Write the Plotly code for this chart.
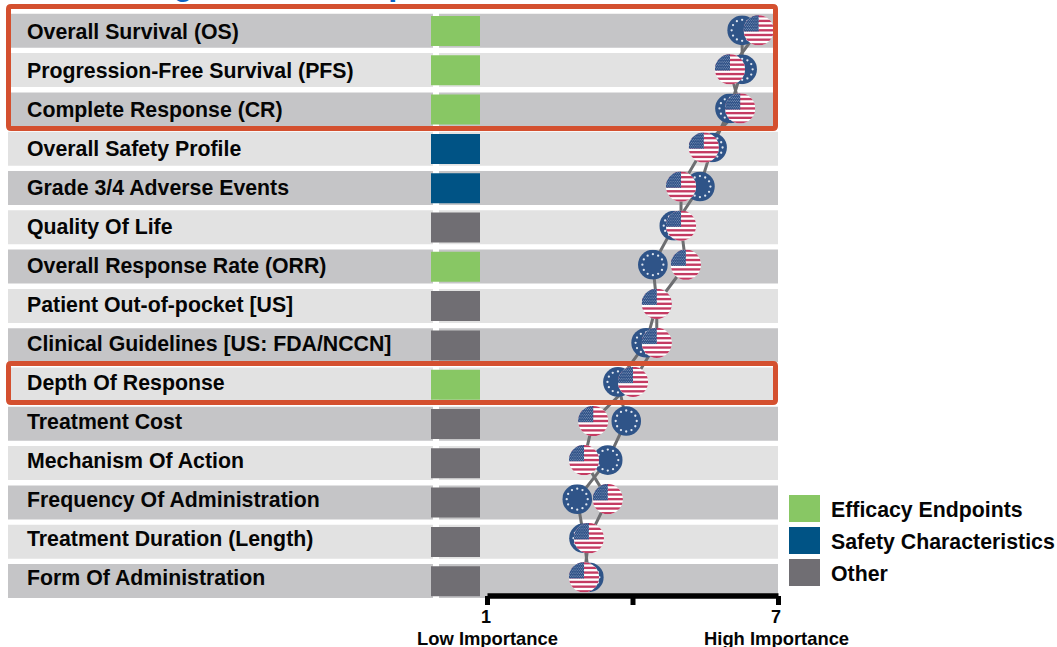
import base64
import math
import plotly.graph_objects as go

# Survey rows, top to bottom
categories = [
    "Overall Survival (OS)", "Progression-Free Survival (PFS)", "Complete Response (CR)",
    "Overall Safety Profile", "Grade 3/4 Adverse Events", "Quality Of Life",
    "Overall Response Rate (ORR)", "Patient Out-of-pocket [US]",
    "Clinical Guidelines [US: FDA/NCCN]", "Depth Of Response", "Treatment Cost",
    "Mechanism Of Action", "Frequency Of Administration",
    "Treatment Duration (Length)", "Form Of Administration",
]
groups = ["E", "E", "E", "S", "S", "O", "E", "O", "O", "E", "O", "O", "O", "O", "O"]
eu_scores = [6.25, 6.25, 6.00, 5.63, 5.38, 4.85, 4.41, 4.49, 4.27, 3.69, 3.86, 3.48, 2.85, 2.99, 3.09]
us_scores = [6.59, 6.00, 6.21, 5.46, 4.99, 4.99, 5.09, 4.49, 4.49, 4.00, 3.18, 2.99, 3.48, 3.09, 2.99]
legend_names = ["Efficacy Endpoints", "Safety Characteristics", "Other"]
legend_keys = ["E", "S", "O"]
axis_ticks = [1, 4, 7]
axis_ticktext = ["1", "", "7"]
axis_ends = ["Low Importance", "High Importance"]

W, H = 1057, 647
FONT = "Liberation Sans"
TEXT = "#050505"
GROUP_COLORS = {"E": "#88c764", "S": "#005385", "O": "#706e73"}
BAND_COLORS = ["#c5c5c7", "#e2e2e2"]
BOX_COLOR = "#d4502f"
LINE_COLOR = "#6d6e71"

# Pixel calibration of the two data axes
UNIT = 48.5
X_ONE = 487.5
ROW_PITCH = 39.07
ROW_ZERO = 30.3


def data_x(px):
    return 1 + (px - X_ONE) / UNIT


def data_y(px):
    return (px - ROW_ZERO) / ROW_PITCH


def svg_uri(body):
    svg = f'<svg xmlns="http://www.w3.org/2000/svg" viewBox="0 0 100 100">{body}</svg>'
    return "data:image/svg+xml;base64," + base64.b64encode(svg.encode()).decode()


def eu_badge():
    parts = ['<circle cx="50" cy="50" r="49.5" fill="#2f5488"/>']
    for k in range(12):
        a = 2 * math.pi * k / 12
        parts.append(f'<circle cx="{50 + 35 * math.cos(a):.2f}" cy="{50 + 35 * math.sin(a):.2f}" r="3.8" fill="#dfe6f0"/>')
    return svg_uri("".join(parts))


def us_badge():
    parts = ['<defs><clipPath id="c"><circle cx="50" cy="50" r="49.5"/></clipPath></defs><g clip-path="url(#c)">']
    parts.append('<rect width="100" height="100" fill="#ffffff"/>')
    band = 100 / 13
    for k in range(0, 13, 2):
        parts.append(f'<rect y="{k * band:.2f}" width="100" height="{band:.2f}" fill="#c43a62"/>')
    parts.append(f'<rect width="50" height="{7 * band:.2f}" fill="#33558a"/>')
    for r in range(11):
        for c in range(7):
            cx = 3 + c * 7 + (3.5 if r % 2 else 0)
            cy = 3 + r * 5
            parts.append(f'<circle cx="{cx}" cy="{cy:.1f}" r="1.2" fill="#dfe6f0"/>')
    parts.append("</g>")
    return svg_uri("".join(parts))


def rounded_box(x0, y0, x1, y1, r=2.5):
    fx = lambda v: v / W
    fy = lambda v: 1 - v / H
    return (
        f"M{fx(x0 + r)},{fy(y0)} L{fx(x1 - r)},{fy(y0)} Q{fx(x1)},{fy(y0)} {fx(x1)},{fy(y0 + r)} "
        f"L{fx(x1)},{fy(y1 - r)} Q{fx(x1)},{fy(y1)} {fx(x1 - r)},{fy(y1)} "
        f"L{fx(x0 + r)},{fy(y1)} Q{fx(x0)},{fy(y1)} {fx(x0)},{fy(y1 - r)} "
        f"L{fx(x0)},{fy(y0 + r)} Q{fx(x0)},{fy(y0)} {fx(x0 + r)},{fy(y0)} Z"
    )


rows = list(range(len(categories)))
band_colors = [BAND_COLORS[i % 2] for i in rows]
# The band and swatch column runs on a slightly wider row spacing than the badges
band_rows = [data_y(30.8 + 39.3 * i) for i in rows]
swatch_rows = [data_y(31.0 + 39.3 * i) for i in rows]

fig = go.Figure()

# Alternating row bands: one for the label column, one for the score column
for left, right in ((8, 433), (439, 778)):
    fig.add_trace(go.Bar(
        y=band_rows, x=[(right - left) / UNIT] * len(rows), base=data_x(left),
        orientation="h", width=34 / ROW_PITCH, marker=dict(color=band_colors, line_width=0),
        hoverinfo="skip", showlegend=False,
    ))

# Attribute group swatch in each row
fig.add_trace(go.Bar(
    y=swatch_rows, x=[49 / UNIT] * len(rows), base=data_x(431),
    orientation="h", width=30 / ROW_PITCH,
    marker=dict(color=[GROUP_COLORS[g] for g in groups], line_width=0),
    hoverinfo="skip", showlegend=False,
))

# Country profile lines
for scores in (eu_scores, us_scores):
    fig.add_trace(go.Scatter(
        x=scores, y=rows, mode="lines", line=dict(color=LINE_COLOR, width=3),
        hoverinfo="skip", showlegend=False,
    ))

# Importance scale: baseline and ticks hanging below the last row
scale_y = data_y(596)
tick_end = data_y(605)
fig.add_trace(go.Scatter(
    x=[axis_ticks[0], axis_ticks[-1]], y=[scale_y, scale_y], mode="lines",
    line=dict(color="#000000", width=5.5), hoverinfo="skip", showlegend=False,
))
for tick in axis_ticks:
    fig.add_trace(go.Scatter(
        x=[tick, tick], y=[scale_y, tick_end], mode="lines",
        line=dict(color="#000000", width=5), hoverinfo="skip", showlegend=False,
    ))

# Country badges; the US badge sits on top wherever the two coincide
images = []
for source, scores, size in ((eu_badge(), eu_scores, 30.0), (us_badge(), us_scores, 30.5)):
    for row, score in zip(rows, scores):
        images.append(dict(
            source=source, xref="x", yref="y", x=score, y=row,
            sizex=size / UNIT, sizey=size / ROW_PITCH, sizing="stretch",
            xanchor="center", yanchor="middle", layer="above",
        ))

annotations = []
for row, name in zip(rows, categories):
    annotations.append(dict(
        text=name, xref="paper", x=26 / W, yref="paper", y=1 - (32 + 39 * row) / H,
        xanchor="left", yanchor="middle",
        showarrow=False, borderpad=0, font=dict(family=FONT, size=21.3, color=TEXT, weight="bold"),
    ))

# Heading, cut off by the top edge of the page
annotations.append(dict(
    text="Ranking of Factor Importance", xref="paper", x=64 / W, yref="paper", y=1 - 3 / H,
    xanchor="left", yanchor="bottom", showarrow=False, borderpad=0,
    font=dict(family=FONT, size=32.5, color="#0b62c4", weight="bold"),
))

for px, label in zip((486, 632, 776), axis_ticktext):
    if label:
        annotations.append(dict(
            text=label, xref="paper", x=px / W, yref="paper", y=1 - 617 / H, xanchor="center", yanchor="middle",
            showarrow=False, borderpad=0, font=dict(family=FONT, size=18, color=TEXT, weight="bold"),
        ))

for name, px in zip(axis_ends, (487, 776)):
    annotations.append(dict(
        text=name, xref="paper", x=px / W, yref="paper", y=1 - 638 / H, xanchor="center", yanchor="middle",
        showarrow=False, borderpad=0, font=dict(family=FONT, size=18.4, color=TEXT, weight="bold"),
    ))

shapes = []
for k, (name, key) in enumerate(zip(legend_names, legend_keys)):
    top = 495 + 32 * k
    shapes.append(dict(
        type="rect", xref="paper", yref="paper", x0=789 / W, x1=820 / W,
        y0=1 - top / H, y1=1 - (top + 27) / H, fillcolor=GROUP_COLORS[key], line_width=0, layer="above",
    ))
    annotations.append(dict(
        text=name, xref="paper", x=830 / W, yref="paper", y=1 - (top + 15) / H, xanchor="left", yanchor="middle",
        showarrow=False, borderpad=0, font=dict(family=FONT, size=21.3, color=TEXT, weight="bold"),
    ))

# Highlight frames around the rows of interest
for top, bottom in ((6.5, 128.5), (363.5, 402.5)):
    shapes.append(dict(
        type="path", xref="paper", yref="paper", path=rounded_box(8.5, top, 775.5, bottom),
        line=dict(color=BOX_COLOR, width=5), layer="above",
    ))

fig.update_layout(
    width=W, height=H, margin=dict(l=0, r=0, t=0, b=0, pad=0), autosize=False,
    paper_bgcolor="white", plot_bgcolor="white", barmode="overlay",
    showlegend=False, images=images, annotations=annotations, shapes=shapes,
    xaxis=dict(range=[data_x(0), data_x(W)], visible=False, fixedrange=True),
    yaxis=dict(range=[data_y(H), data_y(0)], visible=False, fixedrange=True),
)

fig.write_html("out.html")
